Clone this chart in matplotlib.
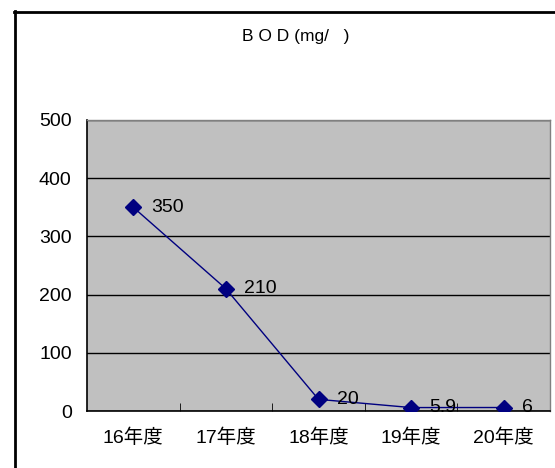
import matplotlib.pyplot as plt
from matplotlib.lines import Line2D

plt.rcParams['font.family'] = ['Liberation Sans', 'Noto Sans CJK JP', 'DejaVu Sans']

# data
years = ['16年度', '17年度', '18年度', '19年度', '20年度']
bod = [350, 210, 20, 5.9, 6]
bod_labels = ['350', '210', '20', '5.9', '6']

fig = plt.figure(figsize=(5.55, 4.68), dpi=100)
fig.patch.set_facecolor('white')

# outer chart frame (only left and top edges visible)
fig.add_artist(Line2D([14.5 / 555, 14.5 / 555], [0, 1 - 11 / 468], transform=fig.transFigure,
                      color='black', lw=2))
fig.add_artist(Line2D([14 / 555, 1], [1 - 11.5 / 468, 1 - 11.5 / 468], transform=fig.transFigure,
                      color='black', lw=2))

ax = fig.add_axes([87 / 555, 57 / 468, 463 / 555, 291 / 468])
ax.set_facecolor('#c0c0c0')

x = list(range(len(years)))
ax.plot(x, bod, color='#000080', lw=1, marker='D', markersize=8, zorder=3)

for xi, v, lab in zip(x, bod, bod_labels):
    ax.annotate(lab, (xi, v), xytext=(13, 0), textcoords='offset points',
                ha='left', va='center', fontsize=14, color='black', zorder=4)

ax.set_xlim(-0.5, len(years) - 0.5)
ax.set_ylim(0, 500)
ax.set_yticks([0, 100, 200, 300, 400, 500])
ax.set_xticks(x)
ax.set_xticklabels(years)
ax.set_xticks([0.5, 1.5, 2.5, 3.5], minor=True)

ax.yaxis.grid(True, color='black', lw=1)
ax.set_axisbelow(True)

ax.tick_params(axis='y', length=0, pad=11, labelsize=14)
ax.tick_params(axis='x', which='major', length=0, pad=13, labelsize=14)
ax.tick_params(axis='x', which='minor', direction='in', length=6, color='black')

for s in ['left', 'bottom']:
    ax.spines[s].set_color('black')
    ax.spines[s].set_linewidth(1.2)
for s in ['top', 'right']:
    ax.spines[s].set_color('#808080')
    ax.spines[s].set_linewidth(1)

fig.text(296 / 555, 1 - 36 / 468, 'B O D (mg/   )', ha='center', va='center', fontsize=12.5)

fig.savefig('out.png', dpi=100)
